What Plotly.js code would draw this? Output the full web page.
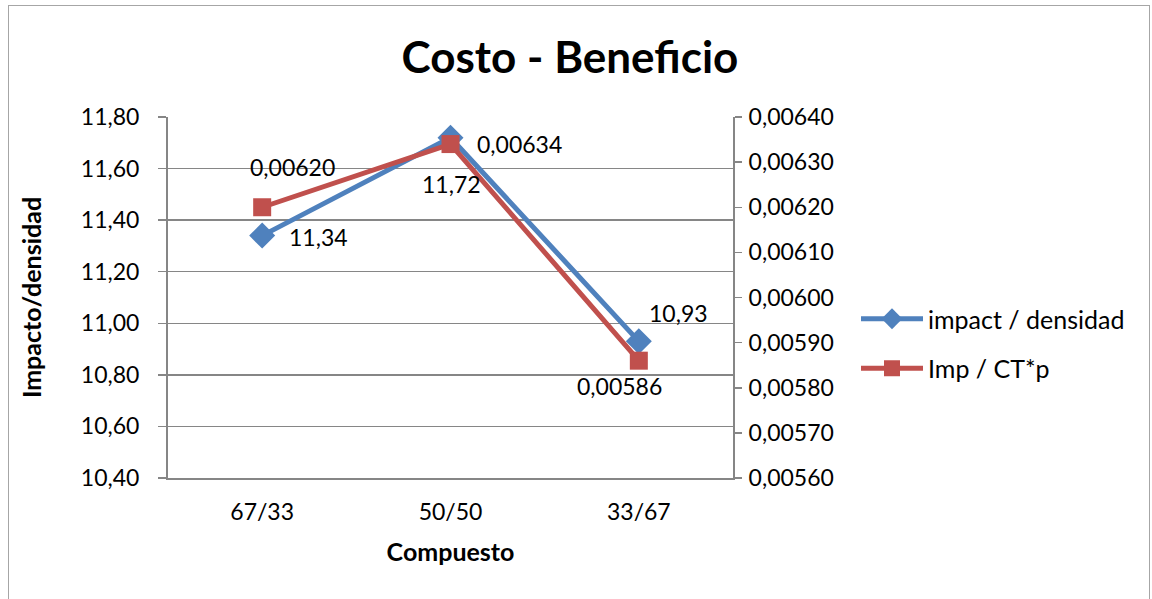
<!DOCTYPE html>
<html>
<head>
<meta charset="utf-8">
<script src="https://cdn.plot.ly/plotly-3.0.1.min.js"></script>
<style>
html,body{margin:0;padding:0;background:#fff;}
#frame{position:absolute;left:8px;top:5px;width:1142px;height:620px;border:1.5px solid #a6a6a6;box-sizing:border-box;}
#chart{position:absolute;left:0;top:0;width:1152px;height:599px;}
</style>
</head>
<body>
<div id="frame"></div>
<div id="chart"></div>
<script>
const categories = ["67/33", "50/50", "33/67"];
const impactDensidad = [11.34, 11.72, 10.93];
const impCTp = [0.00620, 0.00634, 0.00586];
const seriesNames = ["impact / densidad", "Imp / CT*p"];
const blueLabels = ["11,34", "11,72", "10,93"];
const redLabels = ["0,00620", "0,00634", "0,00586"];

const FONT = "Lato, 'Open Sans', sans-serif";
const blue = "#4F81BD", red = "#C0504D";

const traces = [
  {
    x: categories, y: impactDensidad, name: seriesNames[0], type: "scatter", mode: "lines+markers",
    line: {color: blue, width: 5}, marker: {symbol: "diamond", size: 20, color: blue},
    yaxis: "y", cliponaxis: false, legendgroup: "a"
  },
  {
    x: categories, y: impCTp, name: seriesNames[1], type: "scatter", mode: "lines+markers",
    line: {color: red, width: 5}, marker: {symbol: "square", size: 18, color: red},
    yaxis: "y2", cliponaxis: false, legendgroup: "b"
  }
];

const blueShifts = [[56, -1], [1, -46], [40, 28]];
const redShifts = [[30, 40], [69, 0], [-19, -25]];
const annotations = [];
categories.forEach((c, i) => {
  annotations.push({x: c, y: impactDensidad[i], xref: "x", yref: "y", text: blueLabels[i],
    showarrow: false, xshift: blueShifts[i][0], yshift: blueShifts[i][1],
    font: {family: FONT, size: 23, color: "#000"}});
  annotations.push({x: c, y: impCTp[i], xref: "x", yref: "y2", text: redLabels[i],
    showarrow: false, xshift: redShifts[i][0], yshift: redShifts[i][1],
    font: {family: FONT, size: 23, color: "#000"}});
});

const layout = {
  width: 1152, height: 599,
  paper_bgcolor: "rgba(0,0,0,0)", plot_bgcolor: "#fff",
  separators: ",.",
  margin: {l: 168, r: 419, t: 117, b: 121},
  font: {family: FONT, size: 23, color: "#000"},
  title: {text: "<b>Costo - Beneficio</b>", x: 570 / 1152, xref: "container", xanchor: "center",
    y: 1 - 58 / 599, yref: "container", yanchor: "middle", font: {family: FONT, size: 44, color: "#000"}},
  xaxis: {
    type: "category", range: [-0.5, 2.5], showgrid: false, showline: true, linecolor: "#868686", linewidth: 2,
    ticks: "", tickfont: {size: 23}, zeroline: false, ticklabelstandoff: 12,
    title: {text: "<b>Compuesto</b>", font: {size: 25}, standoff: 20}
  },
  yaxis: {
    range: [10.4, 11.8], dtick: 0.2, tick0: 10.4, tickformat: ".2f",
    showgrid: true, gridcolor: "#868686", gridwidth: 1.5,
    showline: true, linecolor: "#868686", linewidth: 2, mirror: false,
    ticks: "outside", ticklen: 8, tickcolor: "#868686", tickwidth: 1.5,
    zeroline: false, tickfont: {size: 23}, ticklabelstandoff: 14,
    title: {text: "<b>Impacto/densidad</b>", font: {size: 25}, standoff: 32}
  },
  yaxis2: {
    overlaying: "y", side: "right", range: [0.0056, 0.0064], dtick: 0.0001, tick0: 0.0056,
    tickformat: ".5f", showgrid: false, showline: true, linecolor: "#868686", linewidth: 2,
    ticks: "outside", ticklen: 7, tickcolor: "#868686", tickwidth: 1.5,
    zeroline: false, tickfont: {size: 23}, ticklabelstandoff: 2
  },
  legend: {
    x: (856 - 168) / (733 - 168), xanchor: "left", y: (478 - 343.5) / 361, yanchor: "middle",
    font: {size: 25}, itemwidth: 62, tracegroupgap: 14, traceorder: "grouped",
    bgcolor: "rgba(0,0,0,0)"
  },
  showlegend: true,
  annotations: annotations
};

Plotly.newPlot("chart", traces, layout, {displayModeBar: false, staticPlot: true});
</script>
</body>
</html>
